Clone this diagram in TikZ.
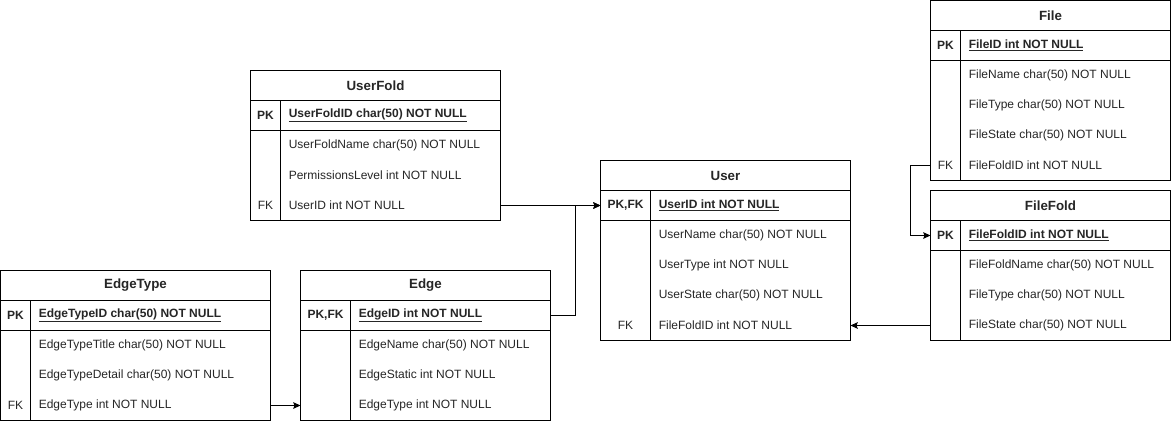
\documentclass[tikz,border=0pt]{standalone}
\usepackage{fontspec}
\setmainfont{Liberation Sans}
\usetikzlibrary{arrows.meta}
\newcommand\erHead[5]{% name, x, y, w, title
  \node[cell, minimum width=#4*0.75pt, font=\bfseries] (#1) at (#2,#3) {#5};}
\newcommand\erRow[7]{% name, x, ytop, w, kw, key, field
  \node[cell, minimum width=#4*0.75pt] (#1) at (#2,#3) {};
  \node[keytext] (#1-k) at (#2+#5/2,#3+15) {#6};
  \node[fieldtext] (#1-f) at (#2+#5+8,#3+15) {#7};}
\newcommand\erFrame[5]{% x, y, w, h, kw
  \draw[tbl] (#1,#2) rectangle (#1+#3,#2+#4);
  \draw[tbl] (#1,#2+30) -- (#1+#3,#2+30);
  \draw[tbl] (#1,#2+60) -- (#1+#3,#2+60);
  \draw[tbl] (#1+#5,#2+30) -- (#1+#5,#2+#4);}
\begin{document}
\begin{tikzpicture}[x=0.75pt,y=-0.75pt,
  every node/.style={font=\fontsize{9}{11}\selectfont, text=black!85},
  cell/.style={anchor=north west, minimum height=22.5pt, inner sep=0pt, outer sep=0pt, draw=none},
  keytext/.style={anchor=center, inner sep=0pt, font=\fontsize{9}{11}\selectfont},
  fieldtext/.style={anchor=west, inner sep=0pt},
  pkkey/.style={font=\fontsize{9}{11}\selectfont\bfseries},
  tbl/.style={draw=black, line width=0.75pt},
  conn/.style={draw=black, line width=0.75pt, -{Stealth[length=5.5pt,width=5pt,inset=1pt]}}]
\useasboundingbox (-0.5,-0.5) rectangle (1170.5,420.5);
\fill[white] (-0.5,-0.5) rectangle (1170.5,420.5);

% UserFold
\erFrame{250}{70}{250}{150}{30}
\erHead{uf-t}{250}{70}{250}{UserFold}
\erRow{uf-pk}{250}{100}{250}{30}{\textbf{PK}}{\textbf{\underline{UserFoldID char(50) NOT NULL}}}
\erRow{uf-r1}{250}{130}{250}{30}{}{UserFoldName char(50) NOT NULL}
\erRow{uf-r2}{250}{160}{250}{30}{}{PermissionsLevel int NOT NULL}
\erRow{uf-fk}{250}{190}{250}{30}{FK}{UserID int NOT NULL}

% File
\erFrame{930}{0}{240}{180}{30}
\erHead{file-t}{930}{0}{240}{File}
\erRow{file-pk}{930}{30}{240}{30}{\textbf{PK}}{\textbf{\underline{FileID int NOT NULL}}}
\erRow{file-r1}{930}{60}{240}{30}{}{FileName char(50) NOT NULL}
\erRow{file-r2}{930}{90}{240}{30}{}{FileType char(50) NOT NULL}
\erRow{file-r3}{930}{120}{240}{30}{}{FileState char(50) NOT NULL}
\erRow{file-fk}{930}{150}{240}{30}{FK}{FileFoldID int NOT NULL}

% FileFold
\erFrame{930}{190}{240}{150}{30}
\erHead{ff-t}{930}{190}{240}{FileFold}
\erRow{ff-pk}{930}{220}{240}{30}{\textbf{PK}}{\textbf{\underline{FileFoldID int NOT NULL}}}
\erRow{ff-r1}{930}{250}{240}{30}{}{FileFoldName char(50) NOT NULL}
\erRow{ff-r2}{930}{280}{240}{30}{}{FileType char(50) NOT NULL}
\erRow{ff-r3}{930}{310}{240}{30}{}{FileState char(50) NOT NULL}

% User
\erFrame{600}{160}{250}{180}{50}
\erHead{user-t}{600}{160}{250}{User}
\erRow{user-pk}{600}{190}{250}{50}{\textbf{PK,FK}}{\textbf{\underline{UserID int NOT NULL}}}
\erRow{user-r1}{600}{220}{250}{50}{}{UserName char(50) NOT NULL}
\erRow{user-r2}{600}{250}{250}{50}{}{UserType int NOT NULL}
\erRow{user-r3}{600}{280}{250}{50}{}{UserState char(50) NOT NULL}
\erRow{user-fk}{600}{310}{250}{50}{FK}{FileFoldID int NOT NULL}

% EdgeType
\erFrame{0}{270}{270}{150}{30}
\erHead{et-t}{0}{270}{270}{EdgeType}
\erRow{et-pk}{0}{300}{270}{30}{\textbf{PK}}{\textbf{\underline{EdgeTypeID char(50) NOT NULL}}}
\erRow{et-r1}{0}{330}{270}{30}{}{EdgeTypeTitle char(50) NOT NULL}
\erRow{et-r2}{0}{360}{270}{30}{}{EdgeTypeDetail char(50) NOT NULL}
\erRow{et-fk}{0}{390}{270}{30}{FK}{EdgeType int NOT NULL}

% Edge
\erFrame{300}{270}{250}{150}{50}
\erHead{edge-t}{300}{270}{250}{Edge}
\erRow{edge-pk}{300}{300}{250}{50}{\textbf{PK,FK}}{\textbf{\underline{EdgeID int NOT NULL}}}
\erRow{edge-r1}{300}{330}{250}{50}{}{EdgeName char(50) NOT NULL}
\erRow{edge-r2}{300}{360}{250}{50}{}{EdgeStatic int NOT NULL}
\erRow{edge-r3}{300}{390}{250}{50}{}{EdgeType int NOT NULL}

% connectors
\coordinate (jEdge) at (575,315);
\coordinate (jFile) at (910,165);
\draw[conn] (uf-fk.east) -- (user-pk.west);
\draw[conn] (edge-pk.east) -- (jEdge) |- (user-pk.west);
\draw[conn] (et-fk.east) -- (edge-r3.west);
\draw[conn] (file-fk.west) -- (jFile) |- (ff-pk.west);
\draw[conn] (ff-r3.west) -- (user-fk.east);
\end{tikzpicture}
\end{document}
